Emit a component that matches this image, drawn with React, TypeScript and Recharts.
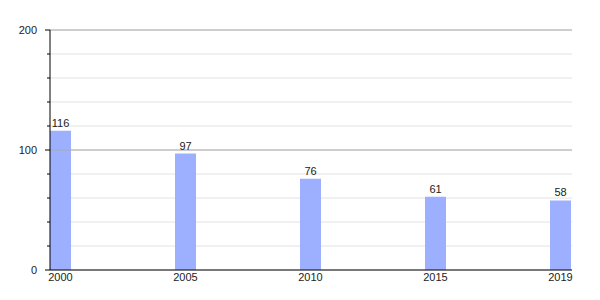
import React from "react";
import { BarChart, Bar, XAxis, YAxis, CartesianGrid, ReferenceLine, LabelList } from "recharts";

const years = ["2000", "2005", "2010", "2015", "2019"];
const values = [116, 97, 76, 61, 58];
const yTicks = [0, 20, 40, 60, 80, 100, 120, 140, 160, 180, 200];
const majorTicks = [0, 100, 200];

const data = years.map((y, i) => ({ idx: i, year: y, value: values[i] }));

const FONT = "'Liberation Sans', Arial, sans-serif";

const YTick = (props: any) => {
  const { x, y, payload } = props;
  const v = payload.value;
  const major = majorTicks.includes(v);
  return (
    <g>
      <line x1={x - (major ? 5 : 3)} x2={x} y1={y} y2={y} stroke="#000" strokeWidth={1} />
      {major && (
        <text x={x - 13} y={y} dy={4} textAnchor="end" fontSize={11} fill="#222" fontFamily={FONT}>
          {v}
        </text>
      )}
    </g>
  );
};

export default function App() {
  return (
    <div style={{ position: "absolute", left: 0, top: 0, width: 600, height: 300, background: "#fff" }}>
      <BarChart
        width={600}
        height={300}
        data={data}
        margin={{ top: 30, right: 28, bottom: 0, left: 0 }}
      >
        <CartesianGrid vertical={false} stroke="#e2e2e2" horizontalValues={yTicks} />
        <ReferenceLine y={100} stroke="#aaaaaa" />
        <ReferenceLine y={200} stroke="#aaaaaa" />
        <XAxis
          dataKey="idx"
          type="number"
          domain={[-0.084, 4.092]}
          ticks={[0, 1, 2, 3, 4]}
          tickFormatter={(v: number) => years[v]}
          axisLine={{ stroke: "#000" }}
          tickLine={false}
          height={30}
          tick={{ fontSize: 11, fill: "#222", fontFamily: FONT }}
          tickSize={3}
          tickMargin={0}
          allowDataOverflow
        />
        <YAxis
          domain={[0, 200]}
          ticks={yTicks}
          width={50}
          axisLine={{ stroke: "#000" }}
          tickLine={false}
          tickSize={0}
          tickMargin={0}
          tick={<YTick />}
          interval={0}
        />
        <Bar dataKey="value" fill="#9cb0ff" barSize={21} isAnimationActive={false}>
          <LabelList dataKey="value" position="top" offset={4} fontSize={11} fill="#222" fontFamily={FONT} />
        </Bar>
      </BarChart>
    </div>
  );
}
